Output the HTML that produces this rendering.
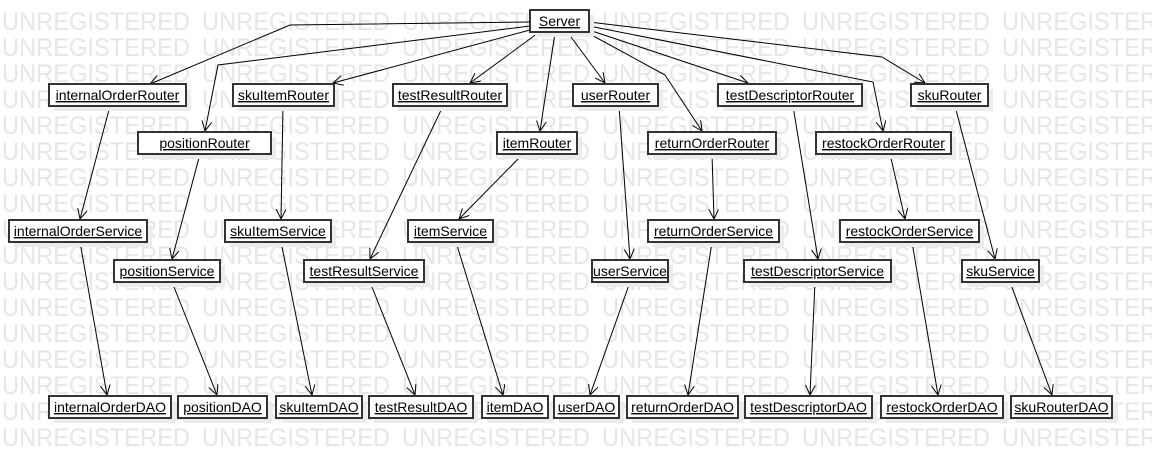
<!DOCTYPE html>
<html><head><meta charset="utf-8"><style>
html,body{margin:0;padding:0;background:#fff;}
svg{display:block;}
.wm{font-family:"Liberation Sans",Arial,sans-serif;font-size:25px;fill:#e6e6e6;}
.lb{font-family:"Liberation Sans",Arial,sans-serif;font-size:14px;fill:#000;text-decoration:underline;}
.e{fill:none;stroke:#000;stroke-width:1;}
</style></head><body>
<svg width="1152" height="458" viewBox="0 0 1152 458" xmlns="http://www.w3.org/2000/svg">
<defs>
<marker id="a" markerWidth="12" markerHeight="12" refX="10" refY="5" orient="auto" markerUnits="userSpaceOnUse">
<path d="M0,0 L10,5 L0,10" fill="none" stroke="#000" stroke-width="1"/>
</marker>
</defs>
<g class="wm" id="wm"></g>
<g>
<polyline class="e" marker-end="url(#a)" points="530,22 290,25 150,84"/>
<polyline class="e" marker-end="url(#a)" points="530,26 218,65 205,131"/>
<polyline class="e" marker-end="url(#a)" points="530,30 333,83"/>
<polyline class="e" marker-end="url(#a)" points="538,33 470,83"/>
<polyline class="e" marker-end="url(#a)" points="555,33 540,131"/>
<polyline class="e" marker-end="url(#a)" points="568,33 605,83"/>
<polyline class="e" marker-end="url(#a)" points="586,32 665,75 702,131"/>
<polyline class="e" marker-end="url(#a)" points="589,30 748,83"/>
<polyline class="e" marker-end="url(#a)" points="589,26 873,82 883,131"/>
<polyline class="e" marker-end="url(#a)" points="589,22 882,57 925,83"/>
<line class="e" marker-end="url(#a)" x1="110" y1="106" x2="80" y2="219"/>
<line class="e" marker-end="url(#a)" x1="200" y1="154" x2="172" y2="259"/>
<line class="e" marker-end="url(#a)" x1="283" y1="106" x2="281" y2="219"/>
<line class="e" marker-end="url(#a)" x1="443" y1="106" x2="370" y2="259"/>
<line class="e" marker-end="url(#a)" x1="523" y1="154" x2="459" y2="219"/>
<line class="e" marker-end="url(#a)" x1="619" y1="106" x2="630" y2="259"/>
<line class="e" marker-end="url(#a)" x1="712" y1="154" x2="714" y2="219"/>
<line class="e" marker-end="url(#a)" x1="793" y1="106" x2="818" y2="259"/>
<line class="e" marker-end="url(#a)" x1="890" y1="154" x2="905" y2="219"/>
<line class="e" marker-end="url(#a)" x1="955" y1="106" x2="995" y2="259"/>
<line class="e" marker-end="url(#a)" x1="80" y1="242" x2="107" y2="395"/>
<line class="e" marker-end="url(#a)" x1="172" y1="282" x2="217" y2="395"/>
<line class="e" marker-end="url(#a)" x1="281" y1="242" x2="312" y2="395"/>
<line class="e" marker-end="url(#a)" x1="370" y1="282" x2="415" y2="395"/>
<line class="e" marker-end="url(#a)" x1="456" y1="242" x2="503" y2="395"/>
<line class="e" marker-end="url(#a)" x1="630" y1="282" x2="590" y2="395"/>
<line class="e" marker-end="url(#a)" x1="712" y1="242" x2="688" y2="395"/>
<line class="e" marker-end="url(#a)" x1="815" y1="282" x2="810" y2="395"/>
<line class="e" marker-end="url(#a)" x1="912" y1="242" x2="938" y2="395"/>
<line class="e" marker-end="url(#a)" x1="1010" y1="282" x2="1052" y2="395"/>
</g>
<g id="boxes"></g>
</svg>
<script>
var w=document.getElementById('wm'),s='';
for(var r=0;r<17;r++){for(var c=0;c<6;c++){s+='<text x="'+(2+c*200)+'" y="'+(30+r*26)+'" textLength="188" lengthAdjust="spacingAndGlyphs">UNREGISTERED</text>';}}
w.innerHTML=s;
var B=[
["Server",530,10,59],
["internalOrderRouter",49,84,137],["skuItemRouter",233,84,101],["testResultRouter",393,84,114],["userRouter",573,84,85],["testDescriptorRouter",718,84,144],["skuRouter",911,84,77],
["positionRouter",138,132,133],["itemRouter",497,132,80],["returnOrderRouter",648,132,128],["restockOrderRouter",816,132,135],
["internalOrderService",9,220,138],["skuItemService",225,220,106],["itemService",408,220,85],["returnOrderService",648,220,131],["restockOrderService",840,220,139],
["positionService",114,260,106],["testResultService",304,260,120],["userService",592,260,76],["testDescriptorService",744,260,147],["skuService",962,260,77],
["internalOrderDAO",49,396,122],["positionDAO",178,396,89],["skuItemDAO",276,396,86],["testResultDAO",369,396,104],["itemDAO",482,396,66],["userDAO",554,396,65],["returnOrderDAO",627,396,111],["testDescriptorDAO",745,396,127],["restockOrderDAO",881,396,122],["skuRouterDAO",1011,396,101]
];
var g=document.getElementById('boxes'),h='';
B.forEach(function(b){var x=b[1],y=b[2],w=b[3];
h+='<rect x="'+(x+5)+'" y="'+(y+5)+'" width="'+w+'" height="22" fill="#ececec"/>';
h+='<rect x="'+x+'" y="'+y+'" width="'+w+'" height="22" fill="#fff" stroke="#333" stroke-width="2"/>';
h+='<text class="lb" x="'+(x+w/2)+'" y="'+(y+16)+'" text-anchor="middle">'+b[0]+'</text>';});
g.innerHTML=h;
</script>
</body></html>
